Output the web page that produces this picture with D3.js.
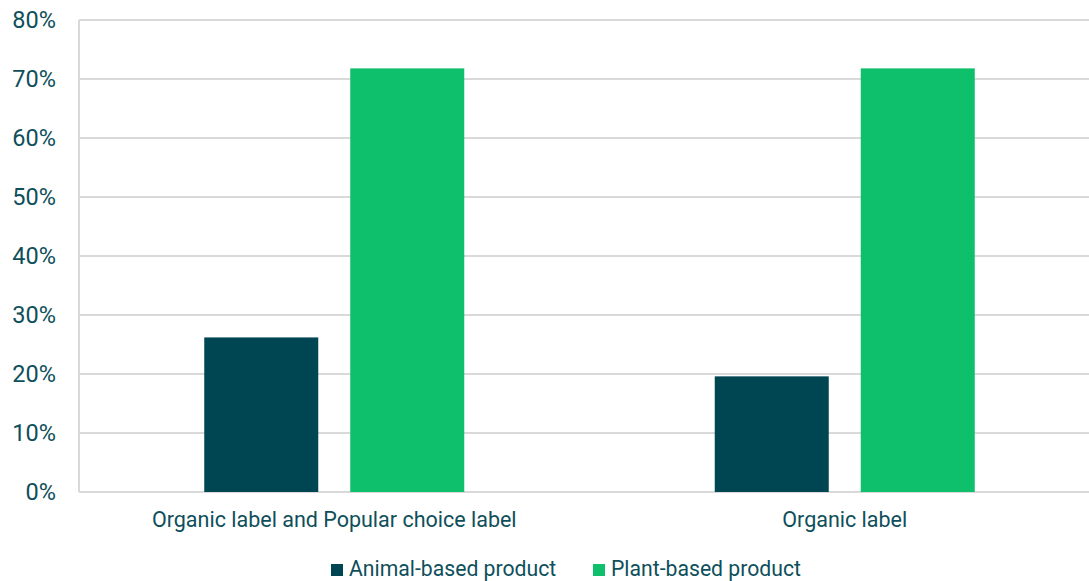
<!DOCTYPE html>
<html>
<head>
<meta charset="utf-8">
<script src="https://cdn.jsdelivr.net/npm/d3@7"></script>
<style>
  html, body { margin: 0; padding: 0; background: #ffffff; }
  svg { display: block; font-family: Roboto, "Noto Sans", sans-serif; }
</style>
</head>
<body>
<svg id="chart" width="1089" height="581"></svg>
<script>
// Share of choices by label condition and product type
const categories = ["Organic label and Popular choice label", "Organic label"];
const seriesNames = ["Animal-based product", "Plant-based product"];
const animalValues = [26.2, 19.6];
const plantValues = [71.8, 71.8];
const yTicks = [0, 10, 20, 30, 40, 50, 60, 70, 80];

const colors = { "Animal-based product": "#004552", "Plant-based product": "#0ebf6b" };
const textColor = "#0e4f5b";

const svg = d3.select("#chart");
const margin = { left: 79, right: -11, top: 20, bottom: 89 };
const W = 1089, H = 581;

const rows = categories.map((c, i) => ({
  category: c,
  values: [
    { series: seriesNames[0], value: animalValues[i] },
    { series: seriesNames[1], value: plantValues[i] }
  ]
}));

const x0 = d3.scaleBand()
  .domain(categories)
  .range([margin.left, W - margin.right]);

const barWidth = 114, barGap = 32;
const x1 = d3.scaleOrdinal()
  .domain(seriesNames)
  .range([-(barGap / 2 + barWidth), barGap / 2]);

const y = d3.scaleLinear()
  .domain([0, 80])
  .range([H - margin.bottom, margin.top]);

// horizontal grid
svg.append("g")
  .selectAll("line")
  .data(yTicks)
  .join("line")
  .attr("x1", margin.left)
  .attr("x2", W)
  .attr("y1", d => y(d))
  .attr("y2", d => y(d))
  .attr("stroke", "#d9d9d9")
  .attr("stroke-width", 2);

// y axis line
svg.append("line")
  .attr("x1", margin.left).attr("x2", margin.left)
  .attr("y1", y(80)).attr("y2", y(0))
  .attr("stroke", "#d9d9d9")
  .attr("stroke-width", 2);

// y tick labels
const yAxis = d3.axisLeft(y).tickValues(yTicks).tickFormat(d => d + "%").tickSize(0).tickPadding(23);
const gy = svg.append("g").attr("transform", `translate(${margin.left},0)`).call(yAxis);
gy.select(".domain").remove();
gy.selectAll("text")
  .attr("fill", textColor)
  .style("font-size", "23.5px")
  .style("font-family", "Roboto, sans-serif");

// bars
svg.append("g")
  .selectAll("g")
  .data(rows)
  .join("g")
  .attr("transform", d => `translate(${x0(d.category) + x0.bandwidth() / 2},0)`)
  .selectAll("rect")
  .data(d => d.values)
  .join("rect")
  .attr("x", d => x1(d.series))
  .attr("width", barWidth)
  .attr("y", d => y(d.value))
  .attr("height", d => y(0) - y(d.value))
  .attr("fill", d => colors[d.series]);

// category labels
const xAxis = d3.axisBottom(x0).tickSize(0).tickPadding(0);
const gx = svg.append("g").attr("transform", `translate(0,${y(0)})`).call(xAxis);
gx.select(".domain").remove();
gx.selectAll("text")
  .attr("fill", textColor)
  .attr("y", 35)
  .attr("dy", null)
  .style("font-size", "21.5px")
  .style("font-family", "Roboto, sans-serif");

// legend
const legendItems = [
  { name: seriesNames[0], x: 331 },
  { name: seriesNames[1], x: 593 }
];
const legend = svg.append("g").attr("transform", "translate(0,576)");
const li = legend.selectAll("g").data(legendItems).join("g")
  .attr("transform", d => `translate(${d.x},0)`);
li.append("rect")
  .attr("x", 0).attr("y", -12)
  .attr("width", 12).attr("height", 12)
  .attr("fill", d => colors[d.name]);
li.append("text")
  .attr("x", 18).attr("y", 0)
  .attr("fill", textColor)
  .style("font-size", "21.2px")
  .text(d => d.name);
</script>
</body>
</html>
